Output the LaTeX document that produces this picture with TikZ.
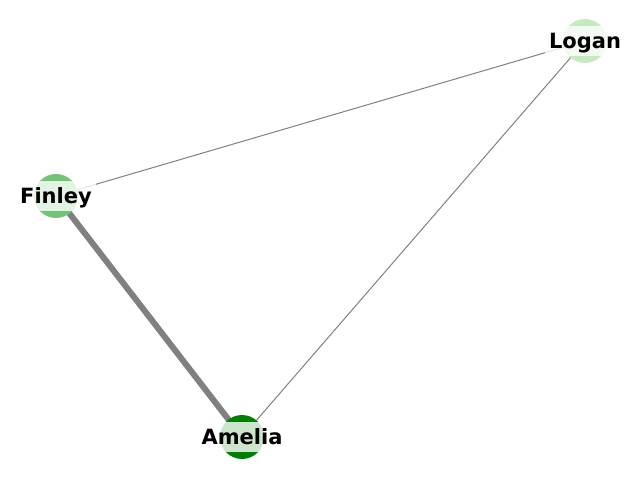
\documentclass[tikz,border=0pt]{standalone}
\usepackage{fontspec}
\setmainfont{DejaVu Sans}
\usetikzlibrary{backgrounds}

\definecolor{paleleaf}{RGB}{199,233,192}
\definecolor{midleaf}{RGB}{116,196,118}
\definecolor{darkleaf}{RGB}{0,128,0}

\tikzset{
  person/.style={circle, minimum size=44pt, inner sep=0pt},
  tag/.style={fill=white, fill opacity=0.8, text opacity=1, inner xsep=4pt, inner ysep=5.5pt,
    text height=17pt, text depth=2.5pt, font=\fontsize{21}{24}\selectfont\bfseries},
  tie/.style={draw=gray, line width=1pt},
}

\begin{document}
\begin{tikzpicture}[x=1pt, y=1pt]
\useasboundingbox (0,0) rectangle (640,480);

% people
\node[person, fill=paleleaf] (logan)  at (585,439) {};
\node[person, fill=midleaf]  (finley) at (56,284)  {};
\node[person, fill=darkleaf] (amelia) at (242,43)  {};

% ties
\begin{scope}[on background layer]
\draw[tie] (logan.center) -- (finley.center);
\draw[tie] (logan.center) -- (amelia.center);
\draw[tie, line width=6pt] (finley.center) -- (amelia.center);
\end{scope}

% names
\node[tag] (loganname)  at (logan)  {Logan};
\node[tag] (finleyname) at (finley) {Finley};
\node[tag] (amelianame) at (amelia) {Amelia};
\end{tikzpicture}
\end{document}
